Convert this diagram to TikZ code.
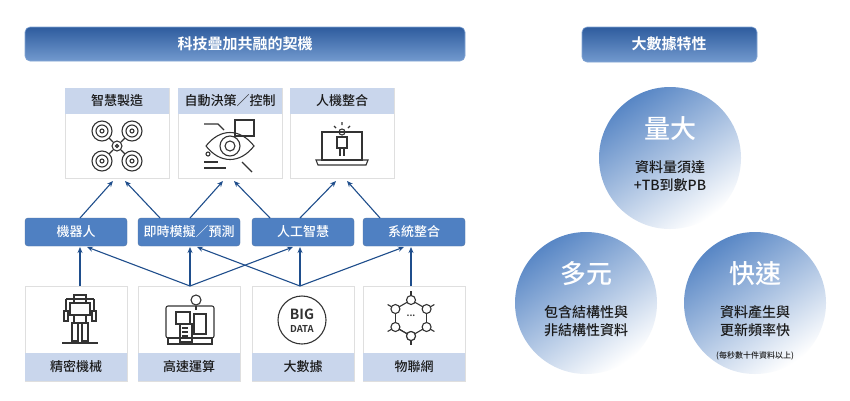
\documentclass[tikz,border=0pt]{standalone}
\usepackage{fontspec}
\setmainfont{Noto Sans CJK TC}[BoldFont={* Bold}]
\newfontfamily\medf{Noto Sans CJK TC Medium}
\usetikzlibrary{arrows.meta,shadows}
\definecolor{dk}{HTML}{2E5C9E}
\definecolor{md}{HTML}{4F80C2}
\definecolor{lt}{HTML}{C9D6EC}
\definecolor{ar}{HTML}{1F4E8C}
\definecolor{ic}{HTML}{333333}
\definecolor{tx}{HTML}{1A1A1A}
\begin{document}
\begin{tikzpicture}[x=1pt,y=-1pt,
 titlebar/.style={rounded corners=5pt,top color=dk,bottom color=md!80,draw=md!70,line width=0.6pt},
 midbox/.style={rounded corners=3pt,fill=md,draw=md!80!black!90},
 card/.style={fill=white,draw=gray!25,line width=0.8pt,drop shadow={opacity=0.12,shadow xshift=1pt,shadow yshift=-1pt}},
 hdr/.style={fill=lt},
 wlab/.style={text=white,font=\medf\fontsize{13}{13}\selectfont},
 dlab/.style={text=tx,font=\medf\fontsize{13}{13}\selectfont},
 arr/.style={draw=ar,line width=1.1pt,-{Stealth[length=6pt,width=5pt]}},
 icn/.style={draw=ic,line width=1.1pt},
 bub/.style={circle,minimum size=142pt,inner sep=0pt,top color=md!95,bottom color=white,shading angle=35,draw=none}
]
\useasboundingbox (0,0) rectangle (850,400);
\fill[white] (0,0) rectangle (850,400);
% left title
\path[titlebar] (25,27) rectangle (465,61);
\node[wlab,font=\bfseries\fontsize{15}{15}\selectfont] (t1) at (245,44) {科技疊加共融的契機};
% top cards
\foreach \n/\x/\t in {c1/65/智慧製造,c2/178/自動決策／控制,c3/290/人機整合}{
 \path[card] (\x,88) rectangle ++(104,90);
 \path[hdr] (\x,88) rectangle ++(104,26);
 \node[dlab] (\n) at (\x+52,101) {\t};
}
% middle boxes
\foreach \n/\x/\t in {m1/25/機器人,m2/138/即時模擬／預測,m3/252/人工智慧,m4/363/系統整合}{
 \path[midbox] (\x,218) rectangle ++(102,28);
 \node[wlab] (\n) at (\x+51,232) {\t};
}
% bottom cards
\foreach \n/\x/\t in {b1/25/精密機械,b2/138/高速運算,b3/252/大數據,b4/363/物聯網}{
 \path[card] (\x,286) rectangle ++(102,95);
 \path[hdr] (\x,353) rectangle ++(102,28);
 \node[dlab] (\n) at (\x+51,367) {\t};
}
% arrows bottom->middle
\coordinate (m1a) at (80,247); \coordinate (m1b) at (87,247);
\coordinate (m2a) at (190,247); \coordinate (m2b) at (197,247);
\coordinate (m3a) at (300,247); \coordinate (m3b) at (293,247);
\coordinate (m4a) at (411,247); \coordinate (m4b) at (404,247);
\coordinate (b1s) at (80,286); \coordinate (b2s) at (190,286);
\coordinate (b3s) at (300,286); \coordinate (b4s) at (411,286);
\draw[arr] (b1s) -- (m1a);
\draw[arr] (b2s) -- (m2a);
\draw[arr] (b2s) -- (m1b);
\draw[arr] (b2s) -- (m3b);
\draw[arr] (b3s) -- (m3a);
\draw[arr] (b3s) -- (m2b);
\draw[arr] (b3s) -- (m4b);
\draw[arr] (b4s) -- (m4a);
% arrows middle->top
\coordinate (u1) at (80,218); \coordinate (u2) at (160,218);
\coordinate (u3) at (190,218); \coordinate (u4) at (270,218);
\coordinate (u5) at (300,218); \coordinate (u6) at (380,218);
\coordinate (d1) at (113,181); \coordinate (d2) at (125,181);
\coordinate (d3) at (223,181); \coordinate (d4) at (234,181);
\coordinate (d5) at (336,181); \coordinate (d6) at (347,181);
\draw[arr] (u1) -- (d1);
\draw[arr] (u2) -- (d2);
\draw[arr] (u3) -- (d3);
\draw[arr] (u4) -- (d4);
\draw[arr] (u5) -- (d5);
\draw[arr] (u6) -- (d6);
% icon: drone
\begin{scope}[shift={(117,146)},icn]
 \foreach \dx/\dy in {-15/-15,15/-15,-15/15,15/15}{
  \draw (\dx,\dy) circle (10); \draw (\dx,\dy) circle (6); \draw (\dx,\dy) circle (2);
 }
 \draw (0,0) circle (5); \draw (0,0) circle (1.5);
 \draw (-8,-8)--(-4,-4) (8,-8)--(4,-4) (-8,8)--(-4,4) (8,8)--(4,4);
\end{scope}
% icon: eye
\begin{scope}[shift={(230,146)},icn]
 \draw (-24,0) .. controls (-10,-18) and (10,-18) .. (24,0) .. controls (10,18) and (-10,18) .. (-24,0);
 \draw (0,0) circle (10); \draw (0,0) circle (5);
 \draw (5,-26) rectangle (24,-10);
 \draw (-26,-22)--(-12,-22)--(-6,-16);
 \draw (-26,16)--(-12,16); \draw (-26,22)--(-4,22);
 \draw (12,16)--(22,26);
 \draw (-22,8) circle (2);
\end{scope}
% icon: laptop person
\begin{scope}[shift={(342,146)},icn]
 \draw (-20,-14) rectangle (20,14);
 \draw (-26,14)--(26,14)--(24,19)--(-24,19)--cycle;
 \draw (0,-14) circle (3);
 \draw (-5,-9) rectangle (5,2); \draw (-2,2)--(-2,10) (2,2)--(2,10);
 \draw (0,-24)--(0,-21) (-8,-20)--(-6,-18) (8,-20)--(6,-18) (-11,-14)--(-8,-14) (8,-14)--(11,-14);
\end{scope}
% icon: robot
\begin{scope}[shift={(80,319)},icn]
 \draw (-14,-20)--(14,-20); \draw (-6,-24) rectangle (6,-16);
 \draw (-10,-16) rectangle (10,-4); \draw (-6,-4) rectangle (6,4);
 \draw (-14,-20)--(-14,-8) (14,-20)--(14,-8);
 \draw (-16,-8) rectangle (-12,2) (12,-8) rectangle (16,2);
 \draw (-8,4) rectangle (-2,22) (2,4) rectangle (8,22);
 \draw (-18,24)--(18,24);
\end{scope}
% icon: city/phone
\begin{scope}[shift={(190,320)},icn]
 \draw[rounded corners=2pt] (-24,-14) rectangle (24,18);
 \draw (-14,-8) rectangle (0,4); \draw (-10,4) rectangle (2,22);
 \draw (4,-6) rectangle (16,14); \draw (-22,18) rectangle (22,24);
 \draw (6,-20) circle (5); \draw (6,-14)--(6,-10);
 \draw (-8,8)--(-2,8) (-8,12)--(-2,12) (-8,16)--(-2,16);
\end{scope}
% icon: big data
\begin{scope}[shift={(302,320)}]
 \draw[icn] (0,0) circle (24);
 \node[font=\bfseries\fontsize{14}{14}\selectfont,text=ic] (bg) at (0,-6) {BIG};
 \node[font=\bfseries\fontsize{9.5}{9.5}\selectfont,text=ic] (dt) at (0,9) {DATA};
\end{scope}
% icon: hexagon network
\begin{scope}[shift={(411,318)},icn]
 \foreach \a in {90,150,...,450}{\draw (\a:18)--(\a+60:18);}
 \foreach \a in {90,150,...,450}{\draw[fill=white] (\a:18) circle (4.5); \draw (\a:22.5)--(\a:27);}
 \node[text=ic,font=\bfseries\fontsize{9}{9}\selectfont] (dots) at (0,-2) {...};
\end{scope}
% right title
\path[titlebar] (582,27) rectangle (757,62);
\node[wlab,font=\bfseries\fontsize{15}{15}\selectfont] (t2) at (669,44) {大數據特性};
% bubbles
\node[bub] (q1) at (670,158) {};
\node[bub] (q2) at (586,303) {};
\node[bub] (q3) at (755,303) {};
\node[text=white,font=\medf\fontsize{26}{26}\selectfont] (q1h) at (670,129) {量大};
\node[text=tx,font=\medf\fontsize{14}{18}\selectfont,align=center] (q1t) at (670,176) {資料量須達\\+TB到數PB};
\node[text=white,font=\medf\fontsize{26}{26}\selectfont] (q2h) at (586,274) {多元};
\node[text=tx,font=\medf\fontsize{14}{18}\selectfont,align=center] (q2t) at (586,321) {包含結構性與\\非結構性資料};
\node[text=white,font=\medf\fontsize{26}{26}\selectfont] (q3h) at (755,274) {快速};
\node[text=tx,font=\medf\fontsize{14}{18}\selectfont,align=center] (q3t) at (755,321) {資料產生與\\更新頻率快};
\node[text=tx,font=\medf\fontsize{8}{8}\selectfont] (q3s) at (755,356) {(每秒數十件資料以上)};
\end{tikzpicture}
\end{document}
